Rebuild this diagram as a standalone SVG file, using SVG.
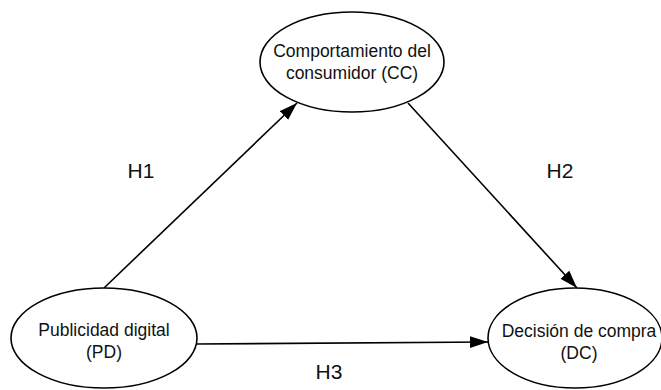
<svg xmlns="http://www.w3.org/2000/svg" width="661" height="390" viewBox="0 0 661 390">
<style>
.node ellipse{fill:#fff;stroke:#000;stroke-width:1.6}
.node text{font-family:"Liberation Sans",Arial,sans-serif;font-size:17.5px;fill:#111;text-anchor:middle}
.lbl{font-family:"Liberation Sans",Arial,sans-serif;font-size:21px;fill:#111;text-anchor:middle}
.edge{stroke:#000;stroke-width:1.6;fill:none;marker-end:url(#arr)}
</style>
<defs>
<marker id="arr" markerUnits="userSpaceOnUse" markerWidth="19" markerHeight="13" refX="18" refY="6.5" orient="auto">
<path d="M0,0.5 L18,6.5 L0,12.5 z" fill="#000"/>
</marker>
</defs>
<rect width="661" height="390" fill="#fff"/>
<g id="connectors">
<line class="edge" x1="104" y1="288" x2="297" y2="103"/>
<line class="edge" x1="408" y1="103" x2="577" y2="288"/>
<line class="edge" x1="196" y1="344" x2="488" y2="342"/>
</g>
<g id="CC" class="node">
<ellipse cx="352" cy="62" rx="92" ry="50"/>
<text x="352" y="57">Comportamiento del</text>
<text x="352" y="79">consumidor (CC)</text>
</g>
<g id="PD" class="node">
<ellipse cx="104" cy="338" rx="93" ry="50"/>
<text x="104" y="336">Publicidad digital</text>
<text x="104" y="358">(PD)</text>
</g>
<g id="DC" class="node">
<ellipse cx="575" cy="338" rx="87" ry="50"/>
<text x="579" y="337">Decisión de compra</text>
<text x="579" y="359">(DC)</text>
</g>
<g id="labels">
<text class="lbl" x="141" y="178">H1</text>
<text class="lbl" x="560" y="178">H2</text>
<text class="lbl" x="329" y="379">H3</text>
</g>
</svg>
